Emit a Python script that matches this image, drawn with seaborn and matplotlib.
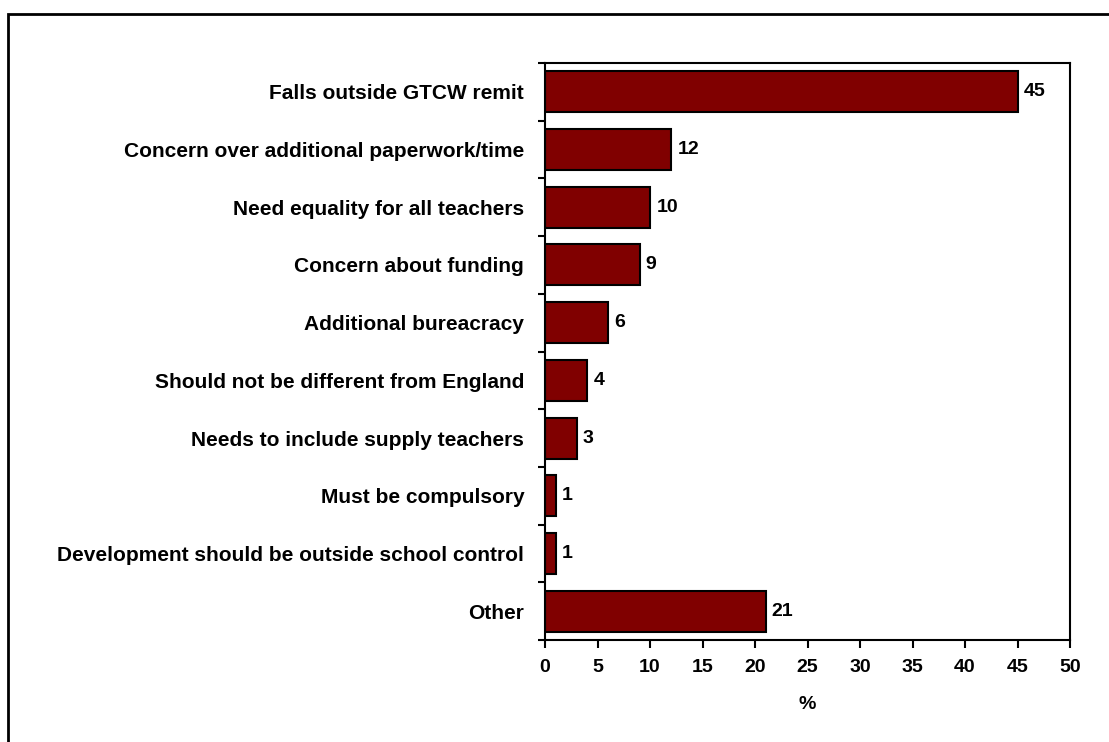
import matplotlib
matplotlib.use("Agg")
import matplotlib.pyplot as plt
from matplotlib.patches import Rectangle
import numpy as np
import pandas as pd
import seaborn as sns

categories = [
    "Falls outside GTCW remit",
    "Concern over additional paperwork/time",
    "Need equality for all teachers",
    "Concern about funding",
    "Additional bureacracy",
    "Should not be different from England",
    "Needs to include supply teachers",
    "Must be compulsory",
    "Development should be outside school control",
    "Other",
]
values = [45, 12, 10, 9, 6, 4, 3, 1, 1, 21]
x_ticks = [0, 5, 10, 15, 20, 25, 30, 35, 40, 45, 50]

sns.set_theme(style="white")
plt.rcParams["font.family"] = ["Liberation Sans", "DejaVu Sans"]
plt.rcParams["font.weight"] = "bold"
plt.rcParams["text.color"] = "black"
plt.rcParams["xtick.color"] = "black"
plt.rcParams["ytick.color"] = "black"
plt.rcParams["axes.labelcolor"] = "black"

df = pd.DataFrame({"reason": categories, "pct": values})

fig = plt.figure(figsize=(11.09, 7.42), dpi=100)
ax = fig.add_axes([545 / 1109, 1 - 640 / 742, (1070 - 545) / 1109, (640 - 63) / 742])

sns.barplot(data=df, x="pct", y="reason", orient="h", color="#800000",
            saturation=1, width=0.71, edgecolor="black", linewidth=1.5, ax=ax)

fs = 14
ax.set_xlim(0, 50)
ax.set_ylim(len(categories) - 0.5, -0.5)
ax.set_xticks(x_ticks)
ax.set_xticklabels([str(t) for t in x_ticks], fontsize=fs, fontweight="bold")
ax.set_yticks(range(len(categories)))
ax.set_yticklabels(categories, fontsize=15, fontweight="bold")
ax.set_yticks(np.arange(-0.5, len(categories), 1.0), minor=True)
ax.tick_params(axis="y", which="major", length=0, pad=15)
ax.tick_params(axis="y", which="minor", left=True, length=5, width=1.5, color="black")
ax.tick_params(axis="x", which="major", bottom=True, length=6, width=1.5,
               color="black", pad=8)
ax.set_ylabel("")
ax.set_xlabel("%", fontsize=fs, fontweight="bold", labelpad=14)

for s in ax.spines.values():
    s.set_visible(True)
    s.set_color("black")
    s.set_linewidth(1.5)

for i, v in enumerate(values):
    ax.text(v + 0.6, i, str(v), va="center", ha="left", fontsize=fs,
            fontweight="bold", color="black")

# outer frame around the chart
fig.patches.append(Rectangle((8 / 1109, -0.2), 1.3, 1.2 - 14 / 742,
                             transform=fig.transFigure, fill=False,
                             edgecolor="black", linewidth=2))

fig.savefig("out.png", dpi=100)
